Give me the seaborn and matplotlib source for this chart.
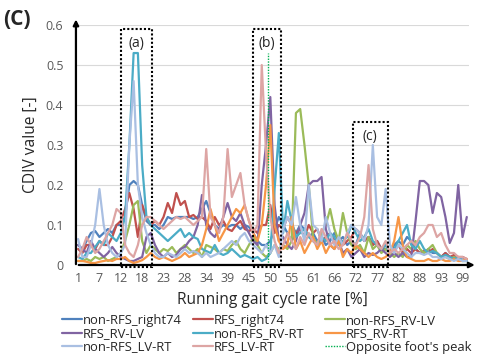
import matplotlib
matplotlib.use("Agg")
import matplotlib.pyplot as plt
from matplotlib.lines import Line2D
from matplotlib.patches import Rectangle
import numpy as np
import pandas as pd
import seaborn as sns

# --- data -----------------------------------------------------------------
TICK_LABELS = ["1", "7", "12", "18", "23", "28", "34", "39", "45", "50",
               "55", "61", "66", "72", "77", "82", "88", "93", "99"]

non_rfs_right74 = [
    0.05, 0.04, 0.06, 0.08, 0.085, 0.07, 0.08, 0.09, 0.08, 0.1,
    0.1, 0.12, 0.2, 0.21, 0.2, 0.15, 0.11, 0.1, 0.1, 0.09,
    0.1, 0.12, 0.115, 0.12, 0.12, 0.12, 0.12, 0.115, 0.12, 0.14,
    0.16, 0.13, 0.1, 0.09, 0.1, 0.095, 0.1, 0.1, 0.09, 0.1,
    0.095, 0.08, 0.06, 0.05, 0.05, 0.06, 0.09, 0.12, 0.1, 0.08,
    0.06, 0.08, 0.1, 0.09, 0.07, 0.08, 0.06, 0.07, 0.05, 0.06,
    0.08, 0.06, 0.07, 0.05, 0.06, 0.05, 0.08, 0.06, 0.07, 0.05,
    0.06, 0.04, 0.04, 0.03, 0.05, 0.06, 0.05, 0.07, 0.06, 0.04,
    0.03, 0.03, 0.04, 0.03, 0.03, 0.02, 0.03, 0.02, 0.02, 0.015, 0.02, 0.01]
rfs_right74 = [
    0.04, 0.03, 0.05, 0.05, 0.04, 0.06, 0.05, 0.05, 0.07, 0.1,
    0.11, 0.14, 0.18, 0.14, 0.07, 0.15, 0.12, 0.1, 0.11, 0.1,
    0.12, 0.155, 0.13, 0.18, 0.15, 0.16, 0.12, 0.125, 0.115, 0.12,
    0.11, 0.09, 0.12, 0.1, 0.11, 0.09, 0.085, 0.1, 0.11, 0.09,
    0.085, 0.09, 0.08, 0.1, 0.1, 0.15, 0.08, 0.1, 0.09, 0.12,
    0.1, 0.08, 0.09, 0.07, 0.1, 0.08, 0.09, 0.06, 0.07, 0.08,
    0.06, 0.07, 0.05, 0.06, 0.07, 0.09, 0.08, 0.06, 0.07, 0.05,
    0.06, 0.04, 0.05, 0.03, 0.04, 0.05, 0.03, 0.04, 0.03, 0.04,
    0.03, 0.035, 0.03, 0.04, 0.03, 0.02, 0.03, 0.02, 0.025, 0.02, 0.02, 0.015]
non_rfs_rv_lv = [
    0.01, 0.01, 0.015, 0.01, 0.02, 0.015, 0.02, 0.01, 0.015, 0.02,
    0.03, 0.06, 0.1, 0.15, 0.16, 0.06, 0.03, 0.05, 0.04, 0.03,
    0.04, 0.035, 0.045, 0.03, 0.04, 0.05, 0.04, 0.03, 0.04, 0.02,
    0.05, 0.045, 0.04, 0.03, 0.04, 0.035, 0.05, 0.06, 0.04, 0.03,
    0.05, 0.07, 0.05, 0.03, 0.02, 0.03, 0.05, 0.04, 0.05, 0.04,
    0.06, 0.38, 0.39, 0.3, 0.2, 0.07, 0.05, 0.08, 0.1, 0.14,
    0.09, 0.06, 0.13, 0.08, 0.05, 0.04, 0.05, 0.03, 0.07, 0.04,
    0.05, 0.03, 0.04, 0.03, 0.02, 0.03, 0.02, 0.05, 0.04, 0.06,
    0.04, 0.03, 0.04, 0.05, 0.03, 0.02, 0.02, 0.015, 0.02, 0.015, 0.01, 0.01]
rfs_rv_lv = [
    0.05, 0.04, 0.03, 0.06, 0.04, 0.03, 0.02, 0.03, 0.045, 0.03,
    0.02, 0.015, 0.01, 0.01, 0.015, 0.02, 0.07, 0.08, 0.05, 0.03,
    0.02, 0.03, 0.02, 0.025, 0.04, 0.045, 0.06, 0.07, 0.1, 0.175,
    0.1, 0.08, 0.07, 0.09, 0.12, 0.155, 0.12, 0.11, 0.13, 0.1,
    0.08, 0.06, 0.05, 0.2, 0.3, 0.42, 0.15, 0.06, 0.07, 0.05,
    0.04, 0.06, 0.1, 0.13, 0.2, 0.21, 0.21, 0.22, 0.09, 0.05,
    0.04, 0.06, 0.03, 0.04, 0.02, 0.03, 0.04, 0.02, 0.03, 0.025,
    0.03, 0.04, 0.03, 0.02, 0.03, 0.02, 0.03, 0.02, 0.02, 0.11,
    0.21, 0.21, 0.2, 0.13, 0.18, 0.17, 0.12, 0.055, 0.08, 0.2, 0.07, 0.12]
non_rfs_rv_rt = [
    0.02, 0.015, 0.03, 0.03, 0.045, 0.06, 0.05, 0.08, 0.07, 0.06,
    0.08, 0.12, 0.3, 0.53, 0.53, 0.25, 0.12, 0.1, 0.09, 0.08,
    0.07, 0.06, 0.07, 0.08, 0.09, 0.07, 0.08, 0.07, 0.065, 0.04,
    0.035, 0.03, 0.05, 0.03, 0.025, 0.03, 0.04, 0.03, 0.02, 0.025,
    0.02, 0.015, 0.02, 0.01, 0.015, 0.03, 0.19, 0.33, 0.08, 0.16,
    0.11, 0.07, 0.08, 0.09, 0.07, 0.06, 0.05, 0.07, 0.06, 0.08,
    0.07, 0.05, 0.06, 0.07, 0.1, 0.08, 0.06, 0.07, 0.09, 0.06,
    0.05, 0.04, 0.05, 0.03, 0.04, 0.06, 0.08, 0.1, 0.05, 0.04,
    0.06, 0.04, 0.03, 0.035, 0.03, 0.02, 0.025, 0.02, 0.015, 0.02, 0.01, 0.01]
rfs_rv_rt = [
    0.01, 0.01, 0.008, 0.005, 0.005, 0.008, 0.01, 0.012, 0.01, 0.015,
    0.015, 0.02, 0.01, 0.005, 0.008, 0.012, 0.02, 0.03, 0.02, 0.015,
    0.02, 0.015, 0.01, 0.015, 0.02, 0.03, 0.02, 0.025, 0.03, 0.05,
    0.09, 0.14, 0.1, 0.06, 0.08, 0.1, 0.12, 0.14, 0.13, 0.15,
    0.11, 0.08, 0.06, 0.1, 0.2, 0.35, 0.1, 0.06, 0.04, 0.05,
    0.12, 0.04, 0.06, 0.03, 0.05, 0.07, 0.04, 0.06, 0.03, 0.05,
    0.04, 0.06, 0.02, 0.04, 0.03, 0.05, 0.04, 0.03, 0.02, 0.03,
    0.02, 0.015, 0.02, 0.03, 0.06, 0.12, 0.05, 0.02, 0.015, 0.01,
    0.01, 0.01, 0.015, 0.01, 0.01, 0.015, 0.01, 0.01, 0.015, 0.01, 0.01, 0.015]
non_rfs_lv_rt = [
    0.065, 0.02, 0.02, 0.05, 0.1, 0.19, 0.1, 0.05, 0.03, 0.02,
    0.03, 0.05, 0.3, 0.46, 0.2, 0.12, 0.08, 0.05, 0.03, 0.02,
    0.02, 0.03, 0.025, 0.02, 0.03, 0.04, 0.03, 0.035, 0.03, 0.02,
    0.03, 0.02, 0.025, 0.03, 0.04, 0.05, 0.06, 0.05, 0.07, 0.08,
    0.06, 0.05, 0.04, 0.03, 0.05, 0.03, 0.05, 0.02, 0.09, 0.12,
    0.1, 0.17, 0.1, 0.06, 0.2, 0.1, 0.09, 0.06, 0.12, 0.08,
    0.05, 0.07, 0.05, 0.08, 0.1, 0.09, 0.08, 0.06, 0.1, 0.3,
    0.12, 0.1, 0.19, 0.05, 0.03, 0.05, 0.04, 0.03, 0.02, 0.03,
    0.03, 0.025, 0.03, 0.02, 0.02, 0.015, 0.02, 0.015, 0.01, 0.015, 0.01, 0.01]
rfs_lv_rt = [
    0.02, 0.04, 0.07, 0.05, 0.03, 0.04, 0.06, 0.08, 0.1, 0.14,
    0.13, 0.05, 0.03, 0.02, 0.05, 0.1, 0.12, 0.12, 0.11, 0.1,
    0.09, 0.1, 0.11, 0.12, 0.115, 0.12, 0.11, 0.1, 0.11, 0.12,
    0.29, 0.12, 0.1, 0.08, 0.12, 0.29, 0.17, 0.2, 0.23, 0.15,
    0.11, 0.08, 0.1, 0.5, 0.28, 0.12, 0.06, 0.03, 0.05, 0.08,
    0.06, 0.04, 0.07, 0.05, 0.08, 0.06, 0.05, 0.09, 0.07, 0.05,
    0.06, 0.04, 0.05, 0.08, 0.06, 0.05, 0.07, 0.12, 0.25, 0.09,
    0.05, 0.04, 0.06, 0.03, 0.04, 0.03, 0.04, 0.05, 0.06, 0.05,
    0.07, 0.08, 0.1, 0.1, 0.07, 0.08, 0.05, 0.03, 0.03, 0.02, 0.02, 0.015]

SERIES_NAMES = ["non-RFS_right74", "RFS_right74", "non-RFS_RV-LV", "RFS_RV-LV",
                "non-RFS_RV-RT", "RFS_RV-RT", "non-RFS_LV-RT", "RFS_LV-RT"]
SERIES_VALUES = [non_rfs_right74, rfs_right74, non_rfs_rv_lv, rfs_rv_lv,
                 non_rfs_rv_rt, rfs_rv_rt, non_rfs_lv_rt, rfs_lv_rt]
COLORS = ["#4F81BD", "#C0504D", "#9BBB59", "#8064A2",
          "#4BACC6", "#F79646", "#A9BFE2", "#DDA5A4"]

OPPOSITE_PEAK_X = 44.4
OPPOSITE_PEAK_TOP = 0.53

# boxes (x0, x1, top) in category index units
BOXES = {"(a)": (10.1, 17.4, 0.59), "(b)": (41.0, 47.4, 0.59), "(c)": (64.3, 72.5, 0.357)}

# --- long-form table for seaborn -----------------------------------------
frames = []
for name, vals in zip(SERIES_NAMES, SERIES_VALUES):
    frames.append(pd.DataFrame({"idx": np.arange(len(vals)), "value": vals, "series": name}))
df = pd.concat(frames, ignore_index=True)

sns.set_style("white")
plt.rcParams["font.family"] = ["Open Sans", "DejaVu Sans"]

fig = plt.figure(figsize=(4.9, 3.63), dpi=100)
ax = fig.add_axes([0.155, 0.27, 0.802, 0.661])

for y in np.arange(0.1, 0.61, 0.1):
    ax.axhline(y, color="#D9D9D9", lw=0.8, zorder=0)

sns.lineplot(data=df, x="idx", y="value", hue="series", hue_order=SERIES_NAMES,
             palette=dict(zip(SERIES_NAMES, COLORS)), estimator=None,
             linewidth=1.6, legend=False, ax=ax)

ax.plot([OPPOSITE_PEAK_X, OPPOSITE_PEAK_X], [0, OPPOSITE_PEAK_TOP],
        color="#00B050", lw=1.0, ls=(0, (1, 1)))

for lab, (x0, x1, top) in BOXES.items():
    ax.add_patch(Rectangle((x0, -0.005), x1 - x0, top + 0.005, fill=False,
                           ec="black", lw=1.5, ls=(0, (1, 1)), clip_on=False, zorder=5))
    ax.text((x0 + x1) / 2, top - 0.035, lab, ha="center", va="center",
            fontsize=10, color="#262626")

n = len(non_rfs_right74)
ax.set_xlim(-0.5, n - 0.5)
ax.set_ylim(0, 0.6)
ax.set_xticks(np.arange(0, n, 5)[:len(TICK_LABELS)])
ax.set_xticklabels(TICK_LABELS)
ax.set_yticks(np.arange(0, 0.61, 0.1))
ax.set_yticklabels(["0", "0.1", "0.2", "0.3", "0.4", "0.5", "0.6"])
ax.tick_params(length=0, labelsize=9, labelcolor="#595959")
ax.tick_params(axis="x", pad=5)
ax.tick_params(axis="y", pad=9)
for s in ax.spines.values():
    s.set_visible(False)

arrow = dict(arrowstyle="-|>", color="black", lw=1.6, mutation_scale=8)
ax.annotate("", xy=(1.022, 0), xytext=(0, 0), xycoords="axes fraction",
            arrowprops=arrow, annotation_clip=False)
ax.annotate("", xy=(0, 1.035), xytext=(0, -0.008), xycoords="axes fraction",
            arrowprops=arrow, annotation_clip=False)

ax.set_xlabel("Running gait cycle rate [%]", fontsize=11.2, color="#262626", labelpad=5)
ax.set_ylabel("CDIV value [-]", fontsize=11.2, color="#262626", labelpad=5)

fig.text(0.006, 0.945, "(C)", fontsize=15, fontweight="bold", ha="left", va="center")

# legend in three fixed columns (row-wise order like the original)
handles = [Line2D([], [], color=c, lw=1.6) for c in COLORS]
handles.append(Line2D([], [], color="#00B050", lw=1.0, ls=(0, (1, 1))))
labels = SERIES_NAMES + ["Opposite foot's peak"]
col_x = [62, 193, 325]
for c in range(3):
    idx = [c, c + 3, c + 6]
    fig.legend([handles[i] for i in idx], [labels[i] for i in idx],
               loc="upper left", bbox_to_anchor=(col_x[c] / 490, 1 - 314 / 363),
               frameon=False, fontsize=9.4, handlelength=1.5, handletextpad=0.1,
               labelspacing=0.02, borderpad=0, borderaxespad=0, labelcolor="#262626")

fig.savefig("out.png", dpi=100)
